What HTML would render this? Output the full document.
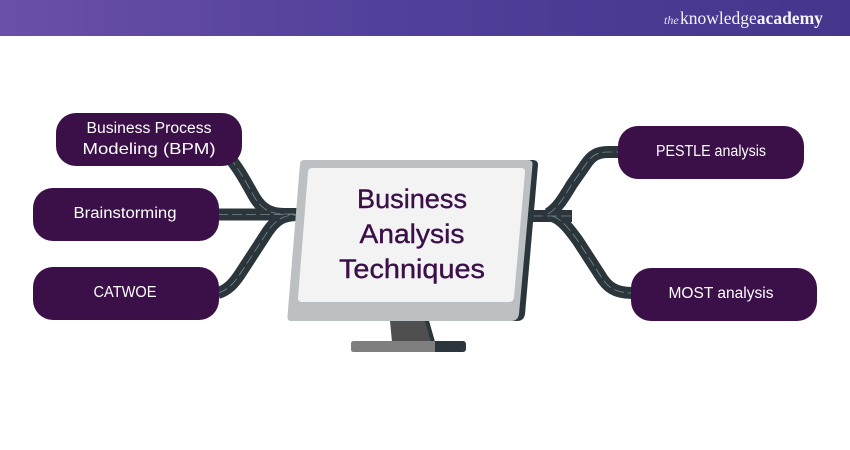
<!DOCTYPE html>
<html>
<head>
<meta charset="utf-8">
<style>
html,body{margin:0;padding:0;width:850px;height:450px;overflow:hidden;background:#fff}
svg{display:block}
text{font-family:"Liberation Sans",Arial,sans-serif}
</style>
</head>
<body>
<svg width="850" height="450" viewBox="0 0 850 450" xmlns="http://www.w3.org/2000/svg">
<defs>
<linearGradient id="hdr" x1="0" y1="0" x2="1" y2="0">
<stop offset="0" stop-color="#6a50a8"/>
<stop offset=".45" stop-color="#52409a"/>
<stop offset="1" stop-color="#45358c"/>
</linearGradient>
</defs>
<rect width="850" height="450" fill="#fff"/>
<rect width="850" height="36" fill="url(#hdr)"/>
<text x="664" y="24" font-size="12" font-style="italic" fill="#e6e0f2" style="font-family:'Liberation Serif',serif">the</text>
<text x="680" y="24" font-size="17.500" fill="#f6f4fb" style="font-family:'Liberation Serif',serif">knowledge<tspan font-weight="bold">academy</tspan></text>

<!-- roads -->
<g fill="none" stroke="#2a363c" stroke-width="12">
<path d="M229 157 C240 170 248 186 255 198 C262 209 270 214 284 214 H297"/>
<path d="M218 214.500 H297"/>
<path d="M218 293 C228 290 234 283 240 274 L268 231 C275 221 282 215 297 215"/>
<path d="M533 216 H572"/>
<path d="M548 214 C558 208 564 197 572 184 L586 164 C592 155 598 152 608 152 H618"/>
<path d="M552 216 C562 219 570 230 578 241 L600 275 C607 287 615 293 632 293"/>
</g>
<g fill="none" stroke="#7d878b" stroke-width=".8" stroke-dasharray="10 4">
<path d="M229 157 C240 170 248 186 255 198 C262 209 270 214 284 214 H297"/>
<path d="M218 214.500 H297"/>
<path d="M218 293 C228 290 234 283 240 274 L268 231 C275 221 282 215 297 215"/>
<path d="M533 216 H572"/>
<path d="M548 214 C558 208 564 197 572 184 L586 164 C592 155 598 152 608 152 H618"/>
<path d="M552 216 C562 219 570 230 578 241 L600 275 C607 287 615 293 632 293"/>
</g>

<!-- pills -->
<g fill="#3b0f48">
<rect x="56" y="113" width="186" height="53" rx="20"/>
<rect x="33" y="188" width="186" height="53" rx="20"/>
<rect x="33" y="267" width="186" height="53" rx="20"/>
<rect x="618" y="126" width="186" height="53" rx="20"/>
<rect x="631" y="268" width="186" height="53" rx="20"/>
</g>
<g fill="#fff" font-size="15.500" text-anchor="middle">
<text x="149" y="133" textLength="125" lengthAdjust="spacingAndGlyphs">Business Process</text>
<text x="149" y="154" font-size="16" textLength="133" lengthAdjust="spacingAndGlyphs">Modeling (BPM)</text>
<text x="125" y="218" textLength="103" lengthAdjust="spacingAndGlyphs">Brainstorming</text>
<text x="125" y="297" textLength="63" lengthAdjust="spacingAndGlyphs">CATWOE</text>
<text x="711" y="156" textLength="110" lengthAdjust="spacingAndGlyphs">PESTLE analysis</text>
<text x="721" y="298" textLength="105" lengthAdjust="spacingAndGlyphs">MOST analysis</text>
</g>

<!-- monitor -->
<path d="M528 160 H533 Q538 160 538 165 L525 314 Q524 321 517 321 H510 Z" fill="#2a363c"/>
<path d="M304 160 H528 Q533 160 532.500 165 L519 314 Q518 321 511 321 H291 Q287 321 287.500 316 L300 164 Q300.500 160 304 160 Z" fill="#bcc0c3"/>
<path d="M312 168 H521 Q525 168 525 172 L514 297 Q513.500 302 509 302 H302 Q298 302 298 298 L308 172 Q308.500 168 312 168 Z" fill="#f3f3f4"/>
<path d="M390 321 H429 L435 342 H392 Z" fill="#4f4f4f"/>
<path d="M425 321 H429 L435 342 H431 Z" fill="#2a363c"/>
<rect x="351" y="341" width="115" height="11" rx="3" fill="#2a363c"/>
<path d="M354 341 H435 V352 H354 Q351 352 351 349 V344 Q351 341 354 341 Z" fill="#7f7f7f"/>
<g fill="#3b0f48" font-size="27" text-anchor="middle" stroke="#3b0f48" stroke-width=".4">
<text x="412" y="208" textLength="110" lengthAdjust="spacingAndGlyphs">Business</text>
<text x="412" y="243" textLength="105" lengthAdjust="spacingAndGlyphs">Analysis</text>
<text x="412" y="278" textLength="146" lengthAdjust="spacingAndGlyphs">Techniques</text>
</g>
</svg>
</body>
</html>
